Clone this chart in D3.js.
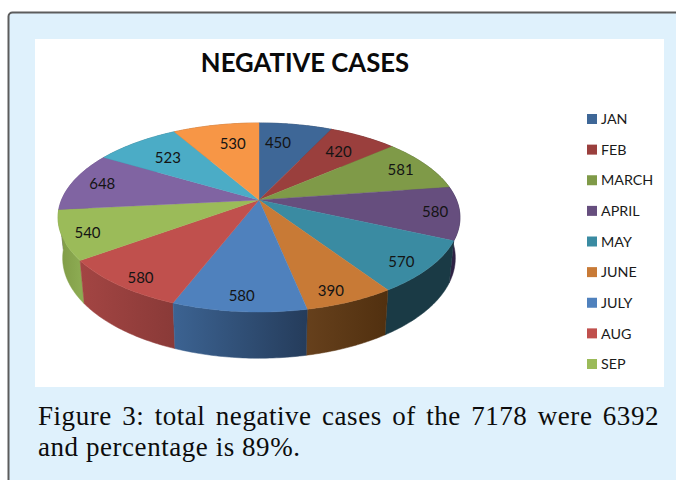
<!DOCTYPE html>
<html><head><meta charset="utf-8">
<script src="https://cdn.jsdelivr.net/npm/d3@7"></script>
<style>html,body{margin:0;padding:0;background:#fff;overflow:hidden}svg{display:block}</style>
</head><body><svg id="c" width="676" height="480"></svg>
<script>
const categories = ["JAN","FEB","MARCH","APRIL","MAY","JUNE","JULY","AUG","SEP"];
const values = [450,420,581,580,570,390,580,580,540,648,523,530];
const topColors = ["#3E6797","#9A3F3D","#7F9A48","#664E7E","#3A8BA2","#C87A36","#4F81BD","#C0504D","#9BBB59","#8064A2","#4BACC6","#F79646"];
const wallStart = ["#2A4566","#682B2A","#566831","#2E2244","#1A3A45","#66401C","#3C6392","#A34543","#7F9A45","#6A5386","#327587","#A8662F"];
const wallEnd   = ["#223853","#552323","#465528","#2E2244","#1A3A45","#51300F","#253C5B","#8A3A38","#8CAB52","#6A5386","#327587","#A8662F"];
const labelRadius = [.72,.74,.84,.88,.88,.89,.88,.9,.88,.84,.72,.72];
const labelTurn = [-.07,0,0,0,.05,.04,0,-.04,-.02,0,0,.05];
const title = "NEGATIVE CASES";
const captionLine1 = "Figure 3: total negative cases of the 7178 were 6392";
const captionLine2 = "and percentage is 89%.";

const svg = d3.select("#c");
const W = 676, H = 480;
const apex = {x:259, y:200}, a = 197.5, b = 91.3, k = -0.185;
const project = (t, r=1) => {
  const x = Math.sin(t)*r, y = -Math.cos(t)*r, d = 1 + k*y;
  return [apex.x + a*x/d, apex.y + b*y/d];
};
const wallScale = 0.977, wallYScale = 1.06, wallDrop = 39.5;
const lower = ([x,y]) => [apex.x + (x-apex.x)*wallScale, apex.y + (y-apex.y)*wallYScale + wallDrop];

// panel
svg.append("rect").attr("x",8.5).attr("y",12.5).attr("width",W+30).attr("height",H+30).attr("rx",4)
  .attr("fill","#DFF1FC").attr("stroke","#5c5c5c").attr("stroke-width",2);
svg.append("rect").attr("x",35).attr("y",39).attr("width",629).attr("height",348).attr("fill","#fff");

svg.append("text").attr("x",305).attr("y",71.5).attr("text-anchor","middle")
  .attr("font-family","Lato").attr("font-weight",700).attr("font-size",25.7).attr("fill","#0a0a0a").text(title);

const arcs = d3.pie().sort(null)(values);
const rim = d => d3.range(0,41).map(i => project(d.startAngle + (d.endAngle-d.startAngle)*i/40));
const line = d3.line();
const defs = svg.append("defs");

// side walls, back to front
const walls = arcs.map(d => {
  const top = rim(d), bot = top.map(lower);
  return {d, top, bot, my: d3.mean(top, p => p[1]), xs: d3.extent(top, p => p[0])};
}).sort((p,q) => p.my - q.my);
walls.forEach(w => {
  const id = "w"+w.d.index;
  const g = defs.append("linearGradient").attr("id",id).attr("gradientUnits","userSpaceOnUse")
    .attr("x1",w.xs[0]).attr("x2",w.xs[1]).attr("y1",0).attr("y2",0);
  g.append("stop").attr("offset",0).attr("stop-color",wallStart[w.d.index]);
  g.append("stop").attr("offset",1).attr("stop-color",wallEnd[w.d.index]);
  svg.append("path").attr("d", line(w.top.concat(w.bot.slice().reverse()))+"Z").attr("fill",`url(#${id})`)
    .attr("stroke",`url(#${id})`).attr("stroke-width",.5);
});
// top faces
svg.append("g").selectAll("path").data(arcs).join("path")
  .attr("d", d => line([[apex.x,apex.y]].concat(rim(d)))+"Z")
  .attr("fill", d => topColors[d.index]).attr("stroke", d => topColors[d.index]).attr("stroke-width",.4);
// labels
svg.append("g").selectAll("text").data(arcs).join("text")
  .attr("transform", d => { const p = project((d.startAngle+d.endAngle)/2 + labelTurn[d.index], labelRadius[d.index]); return `translate(${p[0]},${p[1]})`; })
  .attr("text-anchor","middle").attr("dy","0.36em")
  .attr("font-family","Lato").attr("font-size",15).attr("fill","#141414")
  .text(d => d.data);
// legend
const ly = d3.scalePoint().domain(categories).range([119,364]);
const lg = svg.append("g").selectAll("g").data(categories).join("g").attr("transform", c => `translate(587,${ly(c)})`);
lg.append("rect").attr("y",-5).attr("width",10).attr("height",10).attr("fill",(c,i)=>topColors[i]);
lg.append("text").attr("x",14).attr("dy","0.36em").attr("font-family","Lato").attr("font-size",14.3).attr("fill","#1a1a1a").text(c=>c);
// caption
const cap = svg.append("g").attr("font-family","Liberation Serif").attr("font-size",27).attr("letter-spacing",0.55).attr("fill","#0c0c0c");
const c1 = cap.append("text").attr("x",38).attr("y",425).text(captionLine1);
const spaces = captionLine1.split(" ").length-1;
c1.attr("word-spacing",(621 - c1.node().getComputedTextLength())/spaces);
cap.append("text").attr("x",38).attr("y",456).text(captionLine2);
</script></body></html>
